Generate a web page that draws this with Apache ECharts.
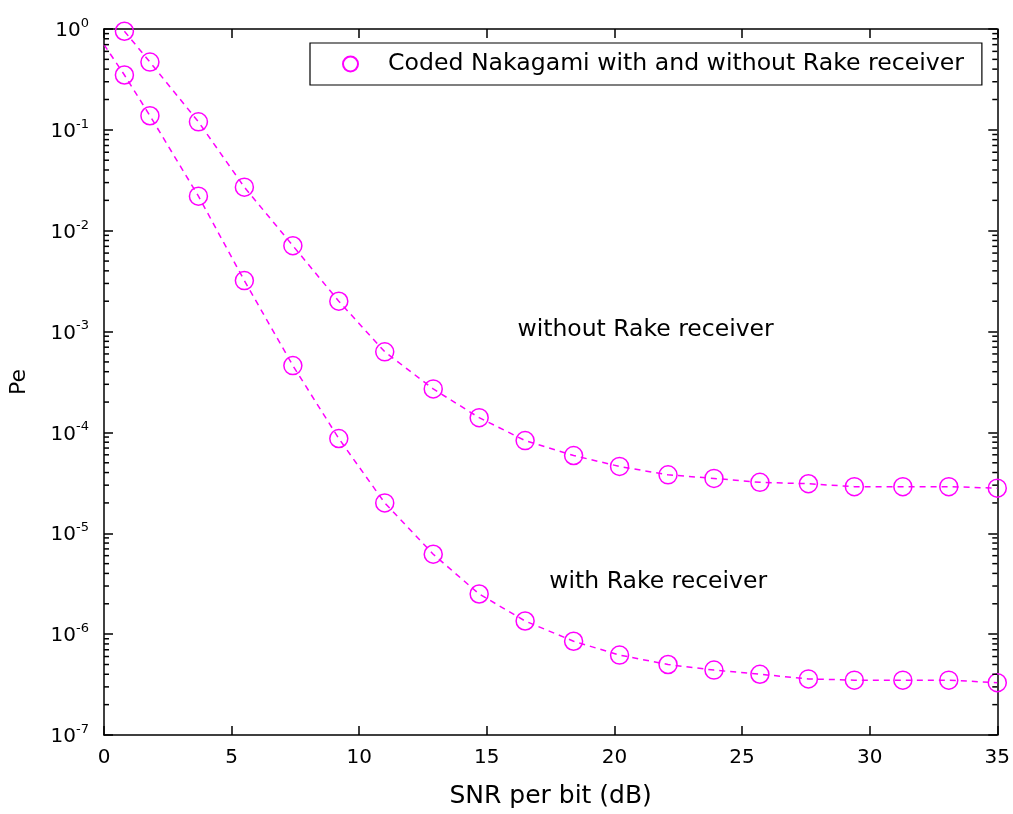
<!DOCTYPE html>
<html>
<head>
<meta charset="utf-8">
<script src="https://cdn.jsdelivr.net/npm/echarts@6/dist/echarts.min.js"></script>
<style>
html,body{margin:0;padding:0;background:#fff;}
#chart{width:1013px;height:814px;}
</style>
</head>
<body>
<div id="chart"></div>
<script>
// ---- data ----
const snrWithout = [0.8, 1.8, 3.7, 5.5, 7.4, 9.2, 11.0, 12.9, 14.7, 16.5, 18.4, 20.2, 22.1, 23.9, 25.7, 27.6, 29.4, 31.3, 33.1, 35.0];
const peWithout  = [0.95, 0.47, 0.12, 0.027, 0.0071, 0.0020, 6.3e-4, 2.7e-4, 1.4e-4, 8.3e-5, 5.9e-5, 4.6e-5, 3.8e-5, 3.5e-5, 3.2e-5, 3.1e-5, 2.9e-5, 2.9e-5, 2.9e-5, 2.8e-5];
const snrWith    = [0.8, 1.8, 3.7, 5.5, 7.4, 9.2, 11.0, 12.9, 14.7, 16.5, 18.4, 20.2, 22.1, 23.9, 25.7, 27.6, 29.4, 31.3, 33.1, 35.0];
const peWith     = [0.35, 0.138, 0.022, 0.0032, 4.6e-4, 8.7e-5, 2.0e-5, 6.2e-6, 2.5e-6, 1.35e-6, 8.5e-7, 6.2e-7, 5.0e-7, 4.4e-7, 4.0e-7, 3.6e-7, 3.5e-7, 3.5e-7, 3.5e-7, 3.3e-7];
const peWithStart = [0, 0.7];           // dashed line enters from the left edge (no marker)
const xTicks = [0, 5, 10, 15, 20, 25, 30, 35];
const yDecadeExponents = [-7, -6, -5, -4, -3, -2, -1, 0];
const legendName = 'Coded Nakagami with and without Rake receiver';
const annotations = [
  {text: 'without Rake receiver', x: 16.2, y: 1.05e-3},
  {text: 'with Rake receiver', x: 17.45, y: 3.3e-6}
];

// minor tick values for the log axis: 2..9 x 10^k
const minorTickValues = [];
for (let i = 0; i < yDecadeExponents.length - 1; i++) {
  for (let m = 2; m <= 9; m++) minorTickValues.push(m * Math.pow(10, yDecadeExponents[i]));
}

const MAG = '#ff00ff';
const FONT = 'DejaVu Sans';

function pairs(xs, ys) { return xs.map((x, i) => [x, ys[i]]); }

const chart = echarts.init(document.getElementById('chart'), null, {renderer: 'canvas'});

const itemStyle = {color: 'rgba(255,255,255,0)', borderColor: MAG, borderWidth: 1.5};
const lineStyle = {color: MAG, type: [6, 5], width: 1.5};

const withData = [{value: peWithStart, symbol: 'none'}].concat(pairs(snrWith, peWith));

const axisLine = {show: true, onZero: false, lineStyle: {color: '#000', width: 1.5}};
const axisTick = {show: true, inside: true, length: 9, lineStyle: {color: '#000', width: 1.5}};

const option = {
  backgroundColor: '#fff',
  animation: false,
  grid: {left: 103, right: 15, top: 29, bottom: 78, containLabel: false},
  legend: {
    data: [{name: legendName, icon: 'circle'}],
    left: 310, top: 43,
    itemWidth: 15, itemHeight: 15,
    padding: [9, 18, 9, 32],
    borderColor: '#000', borderWidth: 1.2,
    backgroundColor: '#fff',
    textStyle: {fontFamily: FONT, fontSize: 23.6, color: '#000', padding: [0, 0, 0, 25]},
    selectedMode: false
  },
  xAxis: [{
    type: 'value', min: 0, max: 35, interval: 5,
    position: 'bottom',
    axisLine: axisLine, axisTick: axisTick,
    axisLabel: {fontFamily: FONT, fontSize: 20, color: '#000', margin: 13,
      formatter: v => xTicks.indexOf(v) >= 0 ? String(v) : ''},
    splitLine: {show: false},
    name: 'SNR per bit (dB)', nameLocation: 'middle', nameGap: 49,
    nameTextStyle: {fontFamily: FONT, fontSize: 25, color: '#000'}
  }, {
    type: 'value', min: 0, max: 35, interval: 5,
    position: 'top',
    axisLine: axisLine, axisTick: axisTick,
    axisLabel: {show: false}, splitLine: {show: false}
  }],
  yAxis: [{
    type: 'log', logBase: 10, min: 1e-7, max: 1, interval: 1,
    position: 'left',
    axisLine: axisLine, axisTick: axisTick,
    axisLabel: {
      margin: 15,
      formatter: v => '{b|10}{s|' + Math.round(Math.log10(v)) + '}',
      rich: {
        b: {fontFamily: FONT, fontSize: 20, color: '#000', lineHeight: 24, verticalAlign: 'bottom'},
        s: {fontFamily: FONT, fontSize: 13, color: '#000', lineHeight: 24, verticalAlign: 'top', padding: [0, 0, 12, 0]}
      }
    },
    splitLine: {show: false},
    name: 'Pe', nameLocation: 'middle', nameGap: 74, nameRotate: 90,
    nameTextStyle: {fontFamily: FONT, fontSize: 22, color: '#000'}
  }, {
    type: 'log', logBase: 10, min: 1e-7, max: 1, interval: 1,
    position: 'right',
    axisLine: axisLine, axisTick: axisTick,
    axisLabel: {show: false}, splitLine: {show: false}
  }],
  series: [
    {
      name: legendName, type: 'line', xAxisIndex: 0, yAxisIndex: 0,
      data: pairs(snrWithout, peWithout),
      symbol: 'circle', symbolSize: 18, showAllSymbol: true,
      itemStyle: itemStyle, lineStyle: lineStyle, z: 3
    },
    {
      name: legendName, type: 'line', xAxisIndex: 0, yAxisIndex: 0,
      data: withData,
      symbol: 'circle', symbolSize: 18, showAllSymbol: true,
      itemStyle: itemStyle, lineStyle: lineStyle, z: 3
    },
    {
      name: 'annotations', type: 'scatter', xAxisIndex: 0, yAxisIndex: 0,
      data: annotations.map(a => ({
        value: [a.x, a.y],
        label: {formatter: a.text, color: '#000', opacity: 1}
      })),
      symbolSize: 0, silent: true,
      itemStyle: {opacity: 1, color: '#000'},
      label: {show: true, position: 'right', distance: 0, fontFamily: FONT, fontSize: 23.5, color: '#000', opacity: 1},
      z: 4
    },
    {
      name: 'minorTicks', type: 'custom', xAxisIndex: 0, yAxisIndex: 0, silent: true,
      data: minorTickValues.map(v => [v]),
      renderItem: function (params, api) {
        const v = api.value(0);
        const l = api.coord([0, v]);
        const r = api.coord([35, v]);
        const st = {stroke: '#000', lineWidth: 1.5};
        return {type: 'group', children: [
          {type: 'line', shape: {x1: l[0], y1: l[1], x2: l[0] + 5, y2: l[1]}, style: st},
          {type: 'line', shape: {x1: r[0] - 5, y1: r[1], x2: r[0], y2: r[1]}, style: st}
        ]};
      },
      encode: {x: -1, y: 0}, clip: false, z: 5
    }
  ]
};
chart.setOption(option);
</script>
</body>
</html>
